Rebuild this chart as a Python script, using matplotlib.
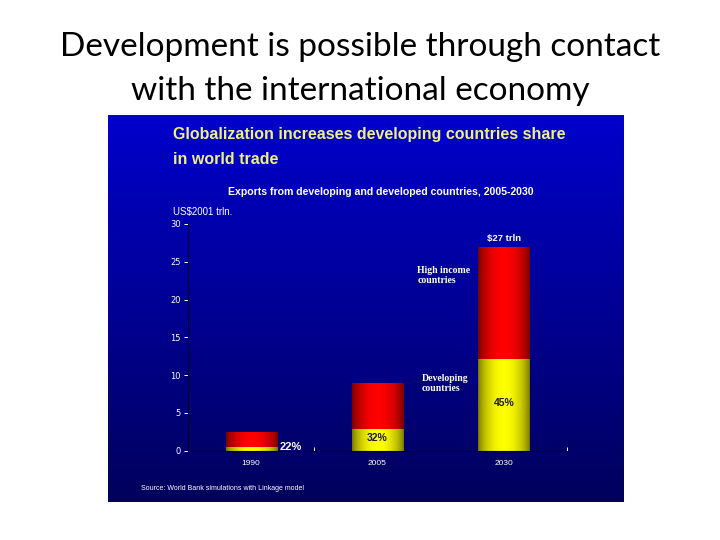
import numpy as np
import matplotlib
matplotlib.use("Agg")
import matplotlib.pyplot as plt
from matplotlib.colors import to_rgb

# ---- data ----
years = ["1990", "2005", "2030"]
developing = [0.55, 2.88, 12.15]
high_income = [1.95, 6.12, 14.85]
share_labels = ["22%", "32%", "45%"]
yticks = [0, 5, 10, 15, 20, 25, 30]
total_label = "$27 trln"

W, H = 720, 540
fig = plt.figure(figsize=(7.2, 5.4), dpi=100)
fig.patch.set_facecolor("white")

def fx(px):
    return px / W

def fy(py):
    return 1 - py / H

# slide title
fig.text(0.5, fy(47), "Development is possible through contact", ha="center", va="center",
         fontsize=24, family="Lato", color="black")
fig.text(0.5, fy(91), "with the international economy", ha="center", va="center",
         fontsize=24, family="Lato", color="black")

# blue panel with gradient
pl, pr, pt, pb = 108, 624, 115, 502
bg = fig.add_axes([fx(pl), fy(pb), fx(pr - pl), (pb - pt) / H])
bg.set_axis_off()
top = np.array([0.0, 0.0, 0.80])
bot = np.array([0.0, 0.0, 0.36])
t = np.linspace(0, 1, 256)[:, None]
grad = top[None, None, :] * (1 - t[..., None]) + bot[None, None, :] * t[..., None]
grad = np.repeat(grad, 4, axis=1)
bg.imshow(grad, aspect="auto", extent=[0, 1, 0, 1], origin="upper")
bg.set_xlim(0, 1)
bg.set_ylim(0, 1)

# chart texts
ttl_col = "#F0F080"
fig.text(fx(173), fy(135), "Globalization increases developing countries share", ha="left", va="center",
         fontsize=11.5, fontweight="bold", family="Liberation Sans", color=ttl_col)
fig.text(fx(173), fy(160), "in world trade", ha="left", va="center",
         fontsize=11.5, fontweight="bold", family="Liberation Sans", color=ttl_col)
fig.text(fx(381), fy(192), "Exports from developing and developed countries, 2005-2030", ha="center",
         va="center", fontsize=7.6, fontweight="bold", family="Liberation Sans", color="white")
fig.text(fx(173), fy(212), "US$2001 trln.", ha="left", va="center",
         fontsize=7, family="Liberation Sans", color="white")
fig.text(fx(141), fy(488), "Source: World Bank simulations with Linkage model", ha="left", va="center",
         fontsize=5.0, family="Liberation Sans", color="white")

# main axes
ax_l, ax_r, ax_t, ax_b = 188, 567, 224, 450.7
ax = fig.add_axes([fx(ax_l), fy(ax_b), fx(ax_r - ax_l), (ax_b - ax_t) / H])
ax.set_facecolor("none")
x = np.arange(len(years))
ax.set_xlim(-0.5, 2.5)
ax.set_ylim(0, 30)

bw = 0.405
b1 = ax.bar(x, developing, width=bw, color="none", edgecolor="none")
b2 = ax.bar(x, high_income, width=bw, bottom=developing, color="none", edgecolor="none")

prof = np.linspace(0, 1, 128)
shade = 0.45 + 0.55 * np.sin(np.pi * prof) ** 0.7

def fill_bar(patch, base):
    x0, y0 = patch.get_x(), patch.get_y()
    w, h = patch.get_width(), patch.get_height()
    c = np.array(to_rgb(base))
    img = np.clip(shade[None, :, None] * c[None, None, :], 0, 1)
    img = np.repeat(img, 2, axis=0)
    im = ax.imshow(img, extent=[x0, x0 + w, y0, y0 + h], aspect="auto", zorder=2,
                   interpolation="bilinear")
    im.set_clip_path(patch)

for p in b1:
    fill_bar(p, "#FFFF00")
for p in b2:
    fill_bar(p, "#FF0000")
ax.set_aspect("auto")
ax.set_xlim(-0.5, 2.5)
ax.set_ylim(0, 30)

for s in ["top", "right"]:
    ax.spines[s].set_visible(False)
ax.spines["left"].set_color("#000022")
ax.spines["bottom"].set_color("#000022")
ax.spines["left"].set_linewidth(0.8)
ax.spines["bottom"].set_linewidth(0.8)

ax.set_yticks(yticks)
ax.set_yticklabels([str(v) for v in yticks], fontsize=6, color="white", family="Liberation Sans Narrow")
ax.tick_params(axis="y", colors="white", length=3, width=0.7, pad=2, labelcolor="white")
ax.set_xticks([0.5, 2.5])
ax.set_xticklabels(["", ""])
ax.set_xticks(x, minor=True)
ax.set_xticklabels(years, minor=True, fontsize=6, color="white", family="Liberation Sans")
ax.tick_params(axis="x", which="major", colors="white", length=3, width=0.7, direction="in")
ax.tick_params(axis="x", which="minor", length=0, pad=7, labelcolor="white")

totals = [d + h for d, h in zip(developing, high_income)]

# annotations
ax.text(x[2], totals[2] + 0.45, total_label, ha="center", va="bottom", fontsize=6.8,
        fontweight="bold", color="white", family="Liberation Sans", zorder=4)
ax.text(x[0] + bw / 2 + 0.02, developing[0], share_labels[0], ha="left", va="center", fontsize=8,
        fontweight="bold", color="white", family="Liberation Sans", zorder=4)
ax.text(x[1], developing[1] / 2 + 0.2, share_labels[1], ha="center", va="center", fontsize=7.5,
        fontweight="bold", color="#1a1a40", family="Liberation Sans", zorder=4)
ax.text(x[2], developing[2] * 0.5 + 0.3, share_labels[2], ha="center", va="center", fontsize=7.5,
        fontweight="bold", color="#1a1a40", family="Liberation Sans", zorder=4)
ax.text(x[2] - 0.685, 23.2, "High income\ncountries", ha="left", va="center", fontsize=7,
        fontweight="bold", color="white", family="Liberation Serif", linespacing=1.1, zorder=4)
ax.text(x[2] - 0.65, 8.9, "Developing\ncountries", ha="left", va="center", fontsize=7,
        fontweight="bold", color="white", family="Liberation Serif", linespacing=1.1, zorder=4)

fig.savefig("out.png", dpi=100)
